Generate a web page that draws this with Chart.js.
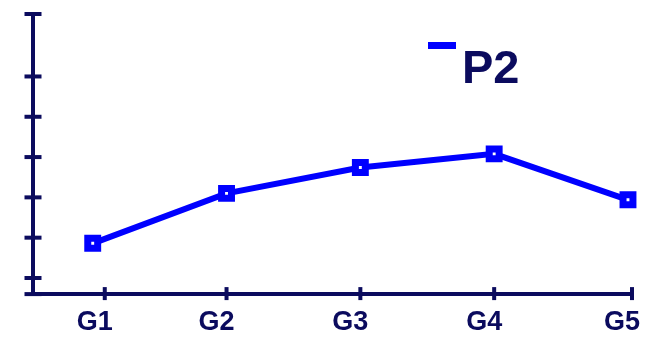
<!DOCTYPE html>
<html>
<head>
<meta charset="utf-8">
<script src="https://cdn.jsdelivr.net/npm/chart.js@4/dist/chart.umd.min.js"></script>
<style>
  html, body { margin: 0; padding: 0; background: #ffffff; }
  canvas { display: block; }
</style>
</head>
<body>
<canvas id="c" width="646" height="352"></canvas>
<script>
// ---- data ----
const categories = ["G1", "G2", "G3", "G4", "G5"];
const seriesLabel = "P2";
const seriesValues = [8.6, 21.0, 27.4, 30.8, 19.4];
const yTickValues = [-4, 0, 10, 20, 30, 40, 50, 65.5];
const xTickValues = [0.09, 1, 2, 3, 4.03];

const NAVY = "#0b0b5e";
const BLUE = "#0000ff";

const points = seriesValues.map((v, i) => ({ x: i, y: v }));

const crossTicks = {
  id: "crossTicks",
  afterDraw(chart) {
    const ctx = chart.ctx;
    const xs = chart.scales.x, ys = chart.scales.y;
    ctx.save();
    ctx.strokeStyle = NAVY;
    ctx.lineWidth = 4;
    ctx.lineCap = "butt";
    const axX = chart.chartArea.left;
    ys.ticks.forEach(t => {
      const py = ys.getPixelForValue(t.value);
      ctx.beginPath();
      ctx.moveTo(axX - 8, py);
      ctx.lineTo(axX + 9, py);
      ctx.stroke();
    });
    const axY = chart.chartArea.bottom;
    xs.ticks.forEach(t => {
      const px = xs.getPixelForValue(t.value);
      ctx.beginPath();
      ctx.moveTo(px, axY - 7);
      ctx.lineTo(px, axY + 6);
      ctx.stroke();
    });
    ctx.restore();
  }
};

const customLegend = {
  id: "customLegend",
  afterDraw(chart) {
    const ctx = chart.ctx;
    const ds = chart.data.datasets[0];
    ctx.save();
    ctx.fillStyle = ds.borderColor;
    ctx.fillRect(428, 42, 28, 7);
    ctx.fillStyle = NAVY;
    ctx.font = "bold 47px 'Liberation Sans', Arial, sans-serif";
    ctx.textBaseline = "alphabetic";
    ctx.textAlign = "left";
    ctx.fillText(ds.label, 462, 83);
    ctx.restore();
  }
};

new Chart(document.getElementById("c"), {
  type: "line",
  data: {
    datasets: [{
      label: seriesLabel,
      data: points,
      borderColor: BLUE,
      backgroundColor: BLUE,
      borderWidth: 6,
      pointStyle: "rect",
      pointRadius: 7,
      pointBorderWidth: 7,
      pointBackgroundColor: "#ffffff",
      pointBorderColor: BLUE,
      tension: 0,
      clip: false
    }]
  },
  options: {
    responsive: false,
    animation: false,
    events: [],
    layout: { padding: { left: 32.5, right: 13, top: 9.5, bottom: 1.5 } },
    plugins: { legend: { display: false }, tooltip: { enabled: false } },
    scales: {
      x: {
        type: "linear",
        min: -0.45,
        max: 4.03,
        afterBuildTicks: s => { s.ticks = xTickValues.map(v => ({ value: v })); },
        afterFit: s => { s.paddingRight = 0; s.paddingLeft = 0; },
        grid: { display: false, tickLength: 0 },
        border: { display: true, color: NAVY, width: 4 },
        ticks: {
          color: NAVY,
          font: { family: "'Liberation Sans', Arial, sans-serif", size: 27, weight: "bold" },
          padding: 12,
          labelOffset: -10,
          maxRotation: 0,
          autoSkip: false,
          callback: (v, i) => categories[i]
        }
      },
      y: {
        type: "linear",
        min: -4,
        max: 65.5,
        afterBuildTicks: s => { s.ticks = yTickValues.map(v => ({ value: v })); },
        grid: { display: false, tickLength: 0 },
        border: { display: true, color: NAVY, width: 4 },
        ticks: { display: false, padding: 0 }
      }
    }
  },
  plugins: [crossTicks, customLegend]
});
</script>
</body>
</html>
